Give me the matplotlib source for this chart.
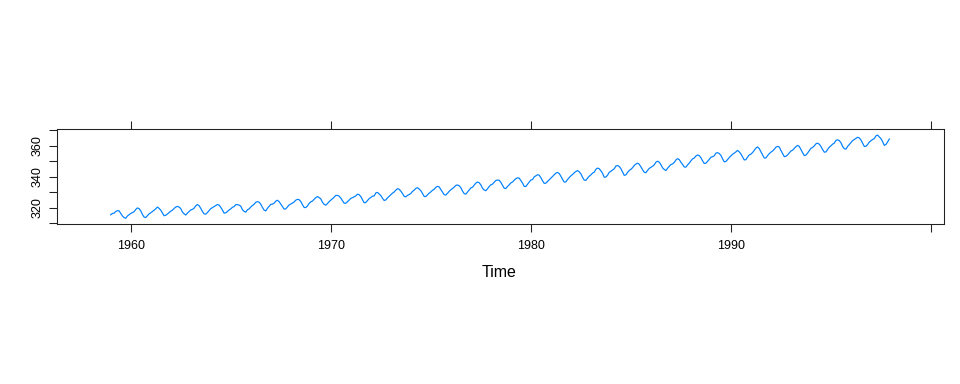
import numpy as np
import matplotlib
matplotlib.use("Agg")
import matplotlib.pyplot as plt

plt.rcParams['font.family'] = ['Liberation Sans', 'DejaVu Sans']

# Mauna Loa monthly CO2 (ppm), Jan 1959 - Dec 1997
start_year = 1959
co2 = [
    315.42, 316.31, 316.50, 317.56, 318.13, 318.00, 316.39, 314.65, 313.68, 313.18, 314.66, 315.43,
    316.27, 316.81, 317.42, 318.87, 319.87, 319.43, 318.01, 315.74, 314.00, 313.68, 314.84, 316.03,
    316.73, 317.54, 318.38, 319.31, 320.42, 319.61, 318.42, 316.63, 314.83, 315.16, 315.94, 316.85,
    317.78, 318.40, 319.53, 320.42, 320.85, 320.45, 319.45, 317.25, 316.11, 315.27, 316.53, 317.53,
    318.58, 318.92, 319.70, 321.22, 322.08, 321.31, 319.58, 317.61, 316.05, 315.83, 316.91, 318.20,
    319.41, 320.07, 320.74, 321.40, 322.06, 321.73, 320.27, 318.54, 316.54, 316.71, 317.53, 318.55,
    319.27, 320.28, 320.73, 321.97, 322.00, 321.71, 321.05, 318.71, 317.66, 317.14, 318.70, 319.25,
    320.46, 321.43, 322.23, 323.54, 323.91, 323.59, 322.24, 320.20, 318.48, 317.94, 319.63, 320.87,
    322.17, 322.34, 322.88, 324.25, 324.83, 323.93, 322.38, 320.76, 319.10, 319.24, 320.56, 321.80,
    322.40, 322.99, 323.73, 324.86, 325.40, 325.20, 323.98, 321.95, 320.18, 320.09, 321.16, 322.74,
    323.83, 324.26, 325.47, 326.50, 327.21, 326.54, 325.72, 323.50, 322.22, 321.62, 322.69, 323.95,
    324.89, 325.82, 326.77, 327.97, 327.91, 327.50, 326.18, 324.53, 322.93, 322.90, 323.85, 324.96,
    326.01, 326.51, 327.01, 327.62, 328.76, 328.40, 327.20, 325.27, 323.20, 323.40, 324.63, 325.85,
    326.60, 327.47, 327.58, 329.56, 329.90, 328.92, 327.88, 326.16, 324.68, 325.04, 326.34, 327.39,
    328.37, 329.40, 330.14, 331.33, 332.31, 331.90, 330.70, 329.15, 327.35, 327.02, 327.99, 328.48,
    329.18, 330.55, 331.32, 332.48, 332.92, 332.08, 331.01, 329.23, 327.27, 327.21, 328.29, 329.41,
    330.23, 331.25, 331.87, 333.14, 333.80, 333.43, 331.73, 329.90, 328.40, 328.17, 329.32, 330.59,
    331.58, 332.39, 333.33, 334.41, 334.71, 334.17, 332.89, 330.77, 329.14, 328.78, 330.14, 331.52,
    332.75, 333.24, 334.53, 335.90, 336.57, 336.10, 334.76, 332.59, 331.42, 330.98, 332.24, 333.68,
    334.80, 335.22, 336.47, 337.59, 337.84, 337.72, 336.37, 334.51, 332.60, 332.38, 333.75, 334.78,
    336.05, 336.59, 337.79, 338.71, 339.30, 339.12, 337.56, 335.92, 333.75, 333.70, 335.12, 336.56,
    337.84, 338.19, 339.91, 340.60, 341.29, 341.00, 339.39, 337.43, 335.72, 335.84, 336.93, 338.04,
    339.06, 340.30, 341.21, 342.33, 342.74, 342.08, 340.32, 338.26, 336.52, 336.68, 338.19, 339.44,
    340.57, 341.44, 342.53, 343.39, 343.96, 343.18, 341.88, 339.65, 337.81, 337.69, 339.09, 340.32,
    341.20, 342.35, 342.93, 344.77, 345.58, 345.14, 343.81, 342.21, 339.69, 339.82, 340.98, 342.82,
    343.52, 344.33, 345.11, 346.88, 347.25, 346.62, 345.22, 343.11, 340.90, 341.18, 342.80, 344.04,
    344.79, 345.82, 347.25, 348.17, 348.74, 348.07, 346.38, 344.51, 342.92, 342.62, 344.06, 345.38,
    346.11, 346.78, 347.68, 349.37, 350.03, 349.37, 347.76, 345.73, 344.68, 343.99, 345.48, 346.72,
    347.84, 348.29, 349.23, 350.80, 351.66, 351.07, 349.33, 347.92, 346.27, 346.18, 347.64, 348.78,
    350.25, 351.54, 352.05, 353.41, 354.04, 353.62, 352.22, 350.27, 348.55, 348.72, 349.91, 351.18,
    352.60, 352.92, 353.53, 355.26, 355.52, 354.97, 353.75, 351.52, 349.64, 349.83, 351.14, 352.37,
    353.50, 354.55, 355.23, 356.04, 357.00, 356.07, 354.67, 352.76, 350.82, 351.04, 352.69, 354.07,
    354.59, 355.63, 357.03, 358.48, 359.22, 358.12, 356.06, 353.92, 352.05, 352.11, 353.64, 354.89,
    355.88, 356.63, 357.72, 359.07, 359.58, 359.17, 356.94, 354.92, 352.94, 353.23, 354.09, 355.33,
    356.63, 357.10, 358.32, 359.41, 360.23, 359.55, 357.53, 355.48, 353.67, 353.95, 355.30, 356.78,
    358.34, 358.89, 359.95, 361.25, 361.67, 360.94, 359.55, 357.49, 355.84, 356.00, 357.59, 359.05,
    359.98, 361.03, 361.66, 363.48, 363.82, 363.30, 361.94, 359.50, 358.11, 357.80, 359.61, 360.74,
    362.09, 363.29, 364.06, 364.76, 365.45, 365.01, 363.70, 361.54, 359.51, 359.65, 360.80, 362.38,
    363.23, 364.06, 364.61, 366.40, 366.84, 365.68, 364.52, 362.57, 360.24, 360.83, 362.49, 364.34,
]
x_ticks = [1960, 1970, 1980, 1990, 2000]
x_labels = ['1960', '1970', '1980', '1990', '']
y_ticks = [310, 320, 330, 340, 350, 360, 370]
y_labels = ['', '320', '', '340', '', '360', '']

time = start_year + np.arange(len(co2)) / 12.0

fig = plt.figure(figsize=(10, 4), dpi=96)
ax = fig.add_axes([56.7 / 960, 1 - 224 / 384, (944 - 56.7) / 960, (224 - 129.3) / 384])
ax.plot(time, co2, color='#0080ff', lw=0.9)

ax.set_xlim(1956.3, 2000.65)
ax.set_ylim(309.5, 370.6)

for s in ax.spines.values():
    s.set_linewidth(0.8)
    s.set_color('#222222')

ax.set_xticks(x_ticks)
ax.set_xticklabels(x_labels)
ax.set_yticks(y_ticks)
ax.set_yticklabels(y_labels, rotation=90, va='center')
ax.tick_params(axis='x', direction='out', length=5.8, width=0.8, color='#222222',
               top=True, labeltop=False, labelsize=9.4, pad=6)
ax.tick_params(axis='y', direction='out', length=5.8, width=0.8, color='#222222',
               right=False, labelsize=9.4, pad=4)

fig.text(499.5 / 960, 1 - 276.7 / 384, 'Time', ha='center', va='baseline', fontsize=12)

fig.savefig('out.png', dpi=96)
